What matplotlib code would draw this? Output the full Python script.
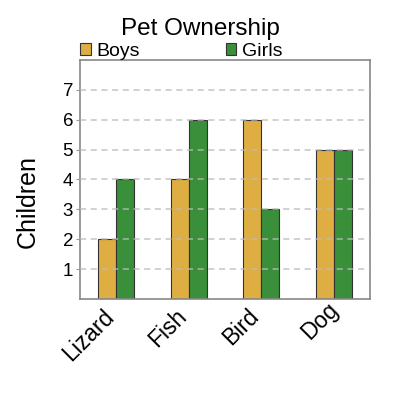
import numpy as np
import matplotlib.pyplot as plt
import matplotlib.transforms as mtransforms

plt.rcParams['font.family'] = ['Liberation Sans', 'DejaVu Sans']

# Datos
mascotas = ['Lizard', 'Fish', 'Bird', 'Dog']
ninos = [2, 4, 6, 5]
ninas = [4, 6, 3, 5]
ticks_y = [1, 2, 3, 4, 5, 6, 7]

color_ninos = '#deae42'
color_ninas = '#3a8f3a'

fig = plt.figure(figsize=(4, 4), dpi=100)
ax = fig.add_axes([0.2, 0.2525, 0.725, 0.5975])

x = np.arange(len(mascotas))
ancho = 0.25
ax.bar(x - ancho / 2, ninos, ancho, color=color_ninos, edgecolor='#333333',
       linewidth=0.8, label='Boys', zorder=2)
ax.bar(x + ancho / 2, ninas, ancho, color=color_ninas, edgecolor='#333333',
       linewidth=0.8, label='Girls', zorder=2)

ax.set_xlim(-0.5, len(mascotas) - 0.5)
ax.set_ylim(0, 8)
ax.set_yticks(ticks_y)
ax.set_xticks(x)
ax.set_xticklabels(mascotas, rotation=45, ha='right', va='center',
                   rotation_mode='anchor', fontsize=16.5)
ax.tick_params(axis='x', length=0, pad=10)
ax.tick_params(axis='y', length=3, color='#999999', labelsize=13.5, pad=2)

# mover las etiquetas un poco a la izquierda (Dog queda algo más arriba)
for lbl in ax.get_xticklabels():
    dx, dy = -6, 0
    if lbl.get_text() == 'Dog':
        dx, dy = 1, 7
    desplaz = mtransforms.ScaledTranslation(dx / 100, dy / 100, fig.dpi_scale_trans)
    lbl.set_transform(lbl.get_transform() + desplaz)

ax.grid(axis='y', linestyle=(0, (4, 3)), color='#bbbbbb', linewidth=1.1,
        alpha=0.85, zorder=3)
ax.set_axisbelow(False)
for s in ax.spines.values():
    s.set_color('#888888')
    s.set_linewidth(1.2)

ax.set_ylabel('Children', fontsize=18)
ax.yaxis.set_label_coords(-0.14, 0.41)
fig.text(0.5, 0.9125, 'Pet Ownership', ha='center', va='baseline', fontsize=17.5)

ax.legend(loc='lower left', bbox_to_anchor=(0.0, 1.0), ncol=2, frameon=False,
          fontsize=14, handlelength=0.55, handleheight=0.55, handletextpad=0.3,
          columnspacing=4.4, borderaxespad=0, borderpad=0)

plt.savefig('out.png')
